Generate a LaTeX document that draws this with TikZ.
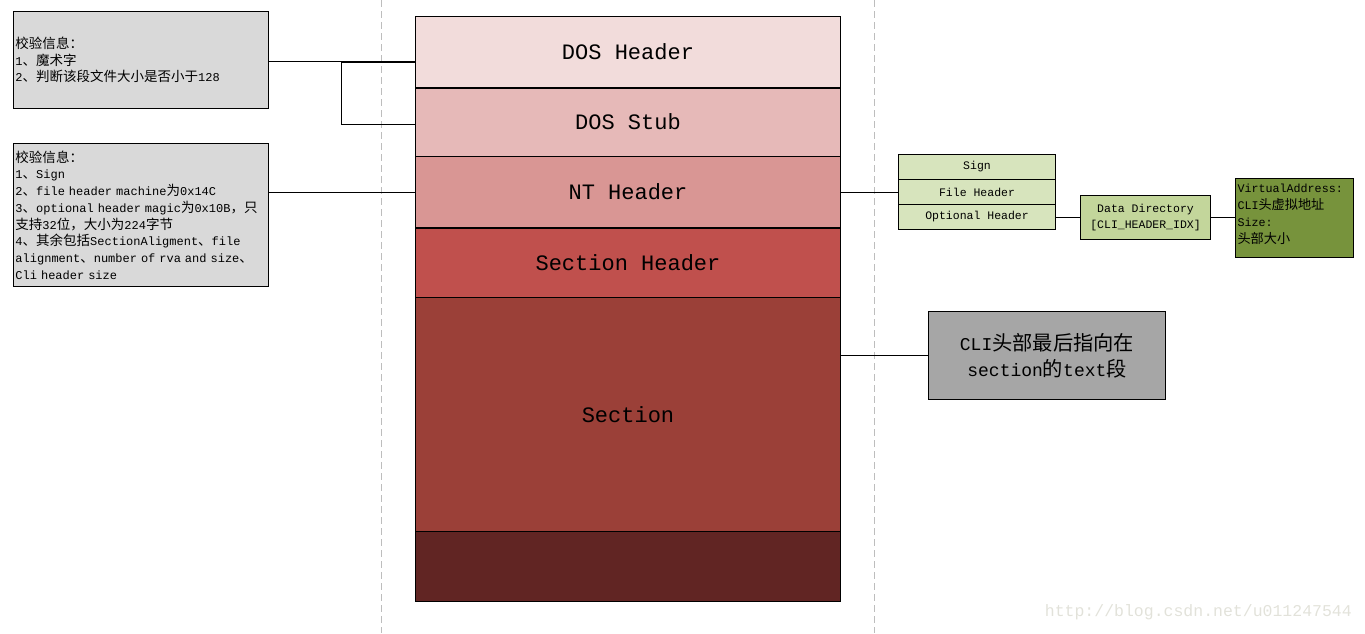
\documentclass[tikz,border=0pt]{standalone}
\usepackage{fontspec}
\setmainfont{Liberation Mono}
\newfontfamily\cjk[Scale=1.125]{Noto Sans CJK SC}
\newcommand\C[1]{{\cjk #1}}
\definecolor{cDosH}{HTML}{F2DCDB}
\definecolor{cDosS}{HTML}{E6B9B8}
\definecolor{cNT}{HTML}{D99694}
\definecolor{cSecH}{HTML}{C0504D}
\definecolor{cSec}{HTML}{9B4038}
\definecolor{cLast}{HTML}{612523}
\definecolor{notegray}{HTML}{D9D9D9}
\definecolor{lgreen}{HTML}{D7E4BD}
\definecolor{mgreen}{HTML}{C3D69B}
\definecolor{dgreen}{HTML}{77933C}
\definecolor{cligray}{HTML}{A6A6A6}
\definecolor{dashgray}{HTML}{BDBDBD}
\definecolor{wmark}{HTML}{E2E2DA}
\begin{document}
\begin{tikzpicture}[x=1pt,y=-1pt,
  blk/.style={draw, line width=1pt, minimum width=425pt, inner sep=0pt, anchor=north west, font=\fontsize{22}{26}\selectfont},
  note/.style={draw, line width=1pt, fill=notegray, minimum width=255pt, text width=251pt, inner xsep=2pt, inner ysep=0pt, align=left, anchor=north west, font=\fontsize{12}{16.7}\selectfont},
  row/.style={draw, line width=1pt, fill=lgreen, minimum width=157pt, minimum height=25pt, inner sep=0pt, anchor=north west, font=\fontsize{11.5}{14}\selectfont},
  link/.style={line width=1pt},
  guide/.style={dashgray, line width=1pt, dash pattern=on 7pt off 4pt}]
\useasboundingbox (0,0) rectangle (1365,633);
% guide lines
\draw[guide] (381,0) -- (381,633);
\draw[guide] (874,0) -- (874,633);
% main stack
\node[blk, fill=cDosH, minimum height=71pt] (dosh) at (415,16) {DOS Header};
\node[blk, fill=cDosS, minimum height=69pt] (doss) at (415,87) {DOS Stub};
\node[blk, fill=cNT, minimum height=71pt] (nth) at (415,156) {NT Header};
\node[blk, fill=cSecH, minimum height=70pt] (sech) at (415,227) {Section Header};
\node[blk, fill=cSec, minimum height=234pt] (sec) at (415,297) {Section};
\node[blk, fill=cLast, minimum height=70pt] (last) at (415,531) {};
\draw[line width=2.2pt] (dosh.south west) -- (dosh.south east);
\draw[line width=2.2pt] (nth.south west) -- (nth.south east);
% notes
\node[note, minimum height=97pt] (n1) at (13,11) {\mbox{\C{校验信息：}}\\\mbox{1\C{、魔术字}}\\\mbox{2\C{、判断该段文件大小是否小于}128}};
\node[note, minimum height=143pt] (n2) at (13,143) {\mbox{\C{校验信息：}}\\
\mbox{1\C{、}Sign}\\
\mbox{2\C{、}file header machine\C{为}0x14C}\\
\mbox{3\C{、}optional header magic\C{为}0x10B\C{，只}}\\
\mbox{\C{支持}32\C{位，大小为}224\C{字节}}\\
\mbox{4\C{、其余包括}SectionAligment\C{、}file}\\
\mbox{alignment\C{、}number of rva and size\C{、}}\\
\mbox{Cli header size}};
% NT header table
\node[row] (sign) at (898,154) {Sign};
\node[row] (fh) at (898,179) {File Header};
\node[row] (oh) at (898,204) {Optional Header};
\node[draw, line width=1pt, fill=mgreen, minimum width=130pt, minimum height=44pt, inner sep=0pt, anchor=north west, align=center, font=\fontsize{11.5}{15.5}\selectfont] (dd) at (1080,195) {Data Directory\\{[}CLI\_HEADER\_IDX{]}};
\node[draw, line width=1pt, fill=dgreen, minimum width=118pt, minimum height=79pt, text width=114pt, inner xsep=2pt, inner ysep=0pt, align=left, anchor=north west, font=\fontsize{11.7}{17}\selectfont] (gb) at (1235,178) {VirtualAddress:\\CLI\C{头虚拟地址}\\Size:\\\C{头部大小}\\[-9pt]\mbox{}};
\node[draw, line width=1pt, fill=cligray, minimum width=237pt, minimum height=88pt, inner sep=0pt, anchor=north west, align=center, font=\fontsize{18}{26}\selectfont] (cli) at (928,311) {CLI\C{头部最后指向在}\\section\C{的}text\C{段}};
% connectors
\draw[link] (n1.east |- 0,61.5) -- (dosh.west |- 0,61.5);
\draw[link] (dosh.west |- 0,62) -| (341,124) -- (doss.west |- 0,124);
\draw[link] (n2.east |- nth.west) -- (nth.west);
\draw[link] (nth.east) -- (fh.west);
\draw[link] (oh.east) -- (dd.west |- oh.east);
\draw[link] (dd.east) -- (gb.west |- dd.east);
\draw[link] (sec.east |- cli.west) -- (cli.west);
% watermark
\node[anchor=east, inner sep=0pt, text=wmark, font=\fontsize{16.5}{18}\selectfont] (wm) at (1352,612) {http://blog.csdn.net/u011247544};
\end{tikzpicture}
\end{document}
